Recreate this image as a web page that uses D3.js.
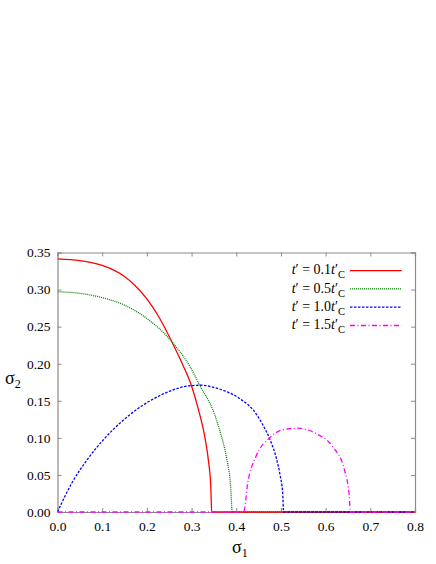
<html>
<head>
<script src="https://d3js.org/d3.v7.min.js"></script>
<style>
  body { margin: 0; background: #fff; }
  text { font-family: 'Liberation Serif', serif; }
</style>
</head>
<body>
<svg id="chart"></svg>
<script>
// data (sigma1, sigma2)
var red01 = [[0,0.3415],[0.05,0.339],[0.1,0.3325],[0.125,0.3265],[0.15,0.3175],[0.175,0.3045],[0.2,0.2875],
  [0.225,0.265],[0.2555,0.230],[0.28,0.199],[0.30,0.170],[0.315,0.139],[0.33,0.100],[0.338,0.068],
  [0.343,0.035],[0.345,0],[0.8,0]];
var green05 = [[0,0.297],[0.05,0.295],[0.1,0.289],[0.15,0.279],[0.2,0.261],[0.2555,0.230],[0.2965,0.196],
  [0.319,0.170],[0.35,0.134],[0.365,0.106],[0.3786,0.072],[0.3875,0.034],[0.391,0],[0.8,0]];
var blue10 = [[0,0],[0.0318,0.0388],[0.069,0.0726],[0.106,0.0996],[0.1437,0.122],[0.181,0.140],[0.218,0.1536],
  [0.2555,0.164],[0.2927,0.170],[0.3227,0.171],[0.35,0.168],[0.38,0.162],[0.41,0.152],[0.44,0.136],
  [0.46,0.117],[0.476,0.097],[0.49,0.072],[0.498,0.050],[0.504,0.025],[0.506,0],[0.8,0]];
var magenta15 = [[0,0],[0.4166,0],[0.4256,0.0388],[0.444,0.0748],[0.474,0.0996],[0.504,0.111],[0.5375,0.113],
  [0.578,0.106],[0.616,0.088],[0.642,0.057],[0.653,0.021],[0.655,0],[0.8,0]];

var seriesLabels = ["0.1", "0.5", "1.0", "1.5"];
var xTicks = [0, 0.1, 0.2, 0.3, 0.4, 0.5, 0.6, 0.7, 0.8];
var yTicks = [0, 0.05, 0.10, 0.15, 0.20, 0.25, 0.30, 0.35];

var W = 436, H = 564;
var mLeft = 57.5, mRight = 415, mTop = 252.5, mBottom = 512;

var svg = d3.select("#chart").attr("width", W).attr("height", H);

var x = d3.scaleLinear().domain([0, 0.8]).range([mLeft, mRight]);
var y = d3.scaleLinear().domain([0, 0.35]).range([mBottom, mTop]);

var styles = [
  {color: "#ff0000", dash: null},
  {color: "#008000", dash: "1,1"},
  {color: "#0000ff", dash: "2.5,1.5"},
  {color: "#ff00ff", dash: "5,2.5,1,2.5"}
];
var allSeries = [red01, green05, blue10, magenta15];

// axes first: inward ticks on all four sides
var grey = "#8c8c8c";
var fmtX = d3.format(".1f"), fmtY = d3.format(".2f");

var gb = svg.append("g").attr("transform", "translate(0," + mBottom + ")")
  .call(d3.axisBottom(x).tickValues(xTicks).tickSize(-4).tickPadding(9).tickFormat(fmtX));
var gt = svg.append("g").attr("transform", "translate(0," + mTop + ")")
  .call(d3.axisTop(x).tickValues(xTicks).tickSize(-4).tickFormat(""));
var gl = svg.append("g").attr("transform", "translate(" + mLeft + ",0)")
  .call(d3.axisLeft(y).tickValues(yTicks).tickSize(-4).tickPadding(7).tickFormat(fmtY));
var gr = svg.append("g").attr("transform", "translate(" + mRight + ",0)")
  .call(d3.axisRight(y).tickValues(yTicks).tickSize(-4).tickFormat(""));

[gb, gt, gl, gr].forEach(g => {
  g.attr("font-family", null);
  g.select(".domain").attr("stroke", grey).attr("stroke-width", 1.2);
  g.selectAll(".tick line").attr("stroke", grey);
  g.selectAll("text").attr("fill", "#000").style("font-family", "'Liberation Serif', serif").style("font-size", "13.5px");
});

// curves drawn over the frame
svg.append("clipPath").attr("id", "clip").append("rect")
  .attr("x", mLeft).attr("y", mTop - 2).attr("width", mRight - mLeft).attr("height", mBottom - mTop + 4);

var line = d3.line().x(d => x(d[0])).y(d => y(d[1])).curve(d3.curveMonotoneX);

svg.append("g").attr("clip-path", "url(#clip)")
  .selectAll("path").data(allSeries).enter()
  .append("path")
  .attr("d", line)
  .attr("fill", "none")
  .attr("stroke", (d, i) => styles[i].color)
  .attr("stroke-width", 1.3)
  .attr("stroke-dasharray", (d, i) => styles[i].dash);

// axis titles
var xt = svg.append("text").attr("x", 232).attr("y", 553).style("font-size", "18px");
xt.append("tspan").text("σ");
xt.append("tspan").attr("dy", 4).style("font-size", "12px").text("1");

var yt = svg.append("text").attr("x", 5).attr("y", 384).style("font-size", "18px");
yt.append("tspan").text("σ");
yt.append("tspan").attr("dy", 4).style("font-size", "12px").text("2");

// legend
var legendY = d3.scaleLinear().domain([0, 1]).range([274.3, 292.6]);
seriesLabels.forEach((lab, i) => {
  var by = legendY(i);
  var t = svg.append("text").attr("x", 345).attr("y", by)
    .attr("text-anchor", "end").style("font-size", "14px");
  t.append("tspan").style("font-style", "italic").text("t");
  t.append("tspan").text("′ = " + lab);
  t.append("tspan").style("font-style", "italic").text("t");
  t.append("tspan").text("′");
  t.append("tspan").attr("dy", 4).style("font-size", "10.5px").text("C");

  svg.append("line")
    .attr("x1", 350).attr("x2", 401.7)
    .attr("y1", by - 3.7).attr("y2", by - 3.7)
    .attr("stroke", styles[i].color)
    .attr("stroke-width", 1.3)
    .attr("stroke-dasharray", styles[i].dash);
});
</script>
</body>
</html>
